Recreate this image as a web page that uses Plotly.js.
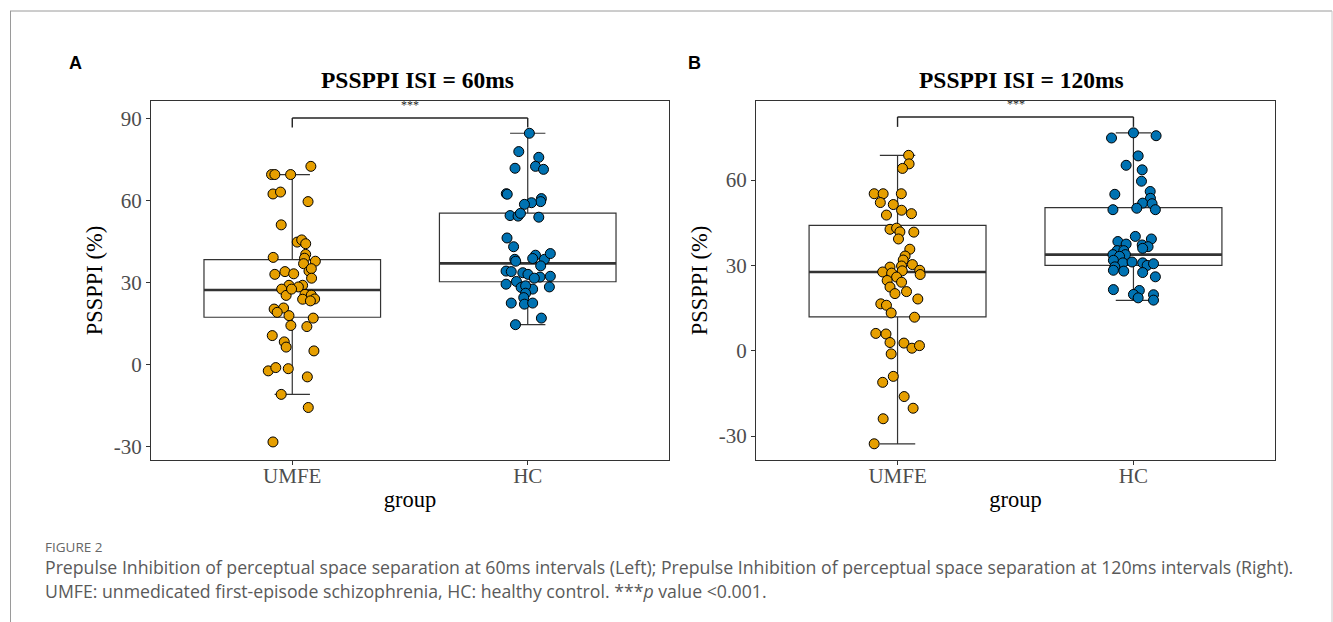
<!DOCTYPE html>
<html>
<head>
<meta charset="utf-8">
<script src="https://cdn.plot.ly/plotly-3.0.1.min.js"></script>
<style>
  html, body { margin: 0; padding: 0; background: #fff; }
  #chart { width: 1333px; height: 622px; }
</style>
</head>
<body>
<div id="chart"></div>
<script>
// ---------------- data ----------------
const categories = ["UMFE", "HC"];

// Panel A: PSSPPI ISI = 60ms
const a_UMFE = [72.5, 69.5, 69.5, 69.5, 62.4, 63.1, 59.6, 51.1, 44.8, 45.6, 44.2, 39.2, 40.3, 38.9, 37.8, 36.9,
  33.0, 34.0, 33.2, 34.2, 35.1, 31.6, 29.0, 27.6, 29.0, 28.4, 25.3, 25.7, 23.9, 25.4, 24.0, 23.3, 27.6,
  20.3, 20.7, 19.1, 17.9, 17.0, 14.3, 13.9, 10.6, 8.3, 6.4, 5.0, -2.3, -1.1, -1.5, -4.5, -10.9, -15.7, -28.3];
const a_UMFE_jitter = [0.079, -0.088, -0.074, -0.007, -0.082, -0.050, 0.067, -0.047, 0.021, 0.040, 0.057, -0.081,
  0.057, 0.052, 0.098, 0.048, -0.074, -0.031, 0.006, 0.071, 0.081, 0.082, -0.014, -0.045, 0.044, 0.026, -0.026,
  0.054, 0.044, 0.081, 0.095, 0.077, -0.003, -0.077, -0.037, -0.064, -0.014, 0.089, -0.006, 0.062, -0.085,
  -0.034, -0.026, 0.092, -0.102, -0.070, -0.017, 0.064, -0.047, 0.068, -0.082];
const a_HC = [84.6, 77.9, 75.8, 72.5, 71.4, 71.8, 62.5, 62.3, 60.7, 59.6, 59.2, 58.6, 54.5, 54.3, 55.3, 53.9,
  46.3, 43.1, 40.0, 38.8, 38.5, 40.6, 38.5, 37.8, 36.1, 34.2, 34.0, 33.6, 33.0, 32.0, 32.3, 31.6, 30.4,
  29.4, 28.2, 27.6, 28.4, 28.8, 26.1, 24.5, 22.5, 22.1, 22.5, 17.0, 14.6];
const a_HC_jitter = [0.007, -0.038, 0.047, 0.033, 0.067, -0.054, -0.091, -0.087, 0.058, 0.055, 0.016, -0.014,
  -0.075, -0.041, -0.031, 0.047, -0.088, -0.060, 0.033, 0.021, 0.071, 0.096, -0.055, -0.051, 0.055, -0.092,
  -0.070, -0.021, 0.001, 0.052, 0.096, 0.028, -0.048, -0.092, -0.028, 0.021, 0.092, -0.009, -0.009, -0.017,
  -0.070, -0.014, 0.021, 0.058, -0.052];
// box statistics: [UMFE, HC]
const a_q1 = [17.3, 30.3];
const a_median = [27.3, 37.0];
const a_q3 = [38.4, 55.4];
const a_lower = [-10.9, 14.6];
const a_upper = [69.5, 84.6];

// Panel B: PSSPPI ISI = 120ms
const b_UMFE = [68.7, 65.7, 64.1, 55.2, 55.2, 55.2, 52.1, 51.4, 49.4, 48.2, 47.7, 42.7, 43.1, 41.8, 41.7, 39.3,
  35.7, 33.3, 31.9, 30.3, 29.8, 29.4, 28.1, 27.7, 27.3, 28.3, 26.8, 25.9, 24.7, 24.1, 22.4, 20.1, 20.8, 18.2,
  16.5, 16.0, 13.3, 11.8, 6.1, 5.9, 2.9, 2.7, 0.9, 1.8, -1.1, -9.0, -11.1, -16.1, -20.2, -23.9, -32.7];
const b_UMFE_jitter = [0.047, 0.049, 0.021, -0.099, -0.061, 0.016, -0.073, -0.018, 0.017, 0.059, -0.047, -0.032,
  -0.004, 0.010, 0.069, 0.004, 0.052, 0.032, 0.024, 0.063, 0.017, -0.032, 0.020, -0.063, -0.025, 0.094, 0.096,
  -0.004, -0.044, 0.017, -0.032, -0.011, 0.038, 0.086, -0.071, -0.047, -0.027, 0.072, -0.092, -0.049, -0.032,
  0.027, 0.061, 0.093, -0.027, -0.018, -0.063, 0.028, 0.066, -0.061, -0.099];
const b_HC = [76.6, 74.8, 75.6, 68.5, 65.2, 63.6, 59.6, 55.0, 56.0, 53.6, 51.9, 51.7, 50.1, 49.6, 49.6, 40.2,
  39.3, 38.4, 37.5, 37.2, 36.6, 35.2, 35.2, 36.0, 33.8, 33.8, 33.2, 31.8, 30.9, 31.2, 30.9, 30.0, 30.6, 29.5,
  28.0, 27.5, 28.3, 26.0, 21.5, 21.2, 19.8, 18.6, 19.7, 17.8];
const b_HC_jitter = [0, -0.093, 0.096, 0.020, -0.031, 0.037, 0.034, -0.079, 0.071, 0.072, 0.039, 0.079, 0.014,
  -0.087, 0.093, 0.008, 0.076, -0.066, -0.031, 0.037, 0.062, -0.069, -0.041, 0.039, -0.087, -0.034, -0.059,
  -0.085, -0.045, -0.006, 0.039, 0.058, 0.085, -0.079, -0.041, 0.039, -0.085, 0.093, -0.085, 0.025, 0, 0.020,
  0.085, 0.085];
const b_q1 = [11.9, 30.0];
const b_median = [27.7, 33.8];
const b_q3 = [44.1, 50.3];
const b_lower = [-32.7, 17.7];
const b_upper = [68.7, 76.6];

const yTicksA = [90, 60, 30, 0, -30];
const yTicksB = [60, 30, 0, -30];
const sigLabel = "***";
const sigA = 90.2, sigB = 82.2; // bracket heights (data units)

// ---------------- styling ----------------
const W = 1333, H = 622;
const colors = ["#E69F00", "#0072B2"];
const serif = "Liberation Serif, Times New Roman, serif";
const boxWidth = 0.75;

function px(x) { return x / W; }
function py(y) { return 1 - y / H; }

function panelTraces(xa, ya, groups, jitters, q1, med, q3, lo, hi) {
  const traces = [];
  traces.push({
    type: "box", xaxis: xa, yaxis: ya,
    x: [0, 1], q1: q1, median: med, q3: q3, lowerfence: lo, upperfence: hi,
    width: boxWidth, boxpoints: false, whiskerwidth: 0.2,
    fillcolor: "rgba(255,255,255,1)",
    line: { color: "#333333", width: 1.2 },
    hoverinfo: "skip", showlegend: false
  });
  // thicker median line
  const mx = [], my = [];
  med.forEach((m, i) => { mx.push(i - boxWidth / 2, i + boxWidth / 2, null); my.push(m, m, null); });
  traces.push({
    type: "scatter", mode: "lines", xaxis: xa, yaxis: ya, x: mx, y: my,
    line: { color: "#333333", width: 2.6 }, hoverinfo: "skip", showlegend: false
  });
  groups.forEach((vals, gi) => {
    traces.push({
      type: "scatter", mode: "markers", xaxis: xa, yaxis: ya,
      x: vals.map((v, i) => gi + jitters[gi][i]), y: vals,
      marker: { color: colors[gi], size: 10, line: { color: "#000", width: 1 } },
      hoverinfo: "skip", showlegend: false
    });
  });
  return traces;
}

const data = [].concat(
  panelTraces("x", "y", [a_UMFE, a_HC], [a_UMFE_jitter, a_HC_jitter], a_q1, a_median, a_q3, a_lower, a_upper),
  panelTraces("x2", "y2", [b_UMFE, b_HC], [b_UMFE_jitter, b_HC_jitter], b_q1, b_median, b_q3, b_lower, b_upper)
);

function xAxis(domain, anchor) {
  return {
    domain: domain, anchor: anchor, range: [-0.6, 1.6],
    tickvals: [0, 1], ticktext: categories,
    showline: true, mirror: true, linecolor: "#333", linewidth: 1,
    ticks: "outside", ticklen: 4, tickcolor: "#333", tickwidth: 1,
    ticklabelstandoff: -7,
    showgrid: false, zeroline: false,
    tickfont: { family: serif, size: 21, color: "#4d4d4d" },
    title: { text: "group", font: { family: serif, size: 22.5, color: "#000" }, standoff: 4 },
    fixedrange: true
  };
}
function yAxis(domain, anchor, range, ticks) {
  return {
    domain: domain, anchor: anchor, range: range,
    tickvals: ticks, ticktext: ticks.map(t => String(t)),
    showline: true, mirror: true, linecolor: "#333", linewidth: 1,
    ticks: "outside", ticklen: 4, tickcolor: "#333", tickwidth: 1,
    showgrid: false, zeroline: false,
    tickfont: { family: serif, size: 21, color: "#4d4d4d" },
    title: { text: "PSSPPI (%)", font: { family: serif, size: 22.5, color: "#000" }, standoff: 4 },
    fixedrange: true
  };
}

const yDom = [py(460), py(101)];

function bracket(xr, yr, yv, tip) {
  const s = { type: "line", xref: xr, yref: yr, line: { color: "#222", width: 1.4 } };
  return [
    Object.assign({}, s, { x0: 0, x1: 0, y0: yv - tip, y1: yv }),
    Object.assign({}, s, { x0: 0, x1: 1, y0: yv, y1: yv }),
    Object.assign({}, s, { x0: 1, x1: 1, y0: yv, y1: yv - tip })
  ];
}

const borderLine = { color: "#9a9a9a", width: 1 };
const shapes = [].concat(
  bracket("x", "y", sigA, 3.5),
  bracket("x2", "y2", sigB, 3.5),
  [
    { type: "line", xref: "paper", yref: "paper", x0: px(10), x1: px(1332), y0: py(11), y1: py(11), line: borderLine },
    { type: "line", xref: "paper", yref: "paper", x0: px(10.5), x1: px(10.5), y0: py(11), y1: 0, line: borderLine },
    { type: "line", xref: "paper", yref: "paper", x0: px(1332), x1: px(1332), y0: py(11), y1: 0, line: { color: "#c8c8c8", width: 1 } }
  ]
);

function note(text, x, y, font, extra) {
  return Object.assign({ text: text, xref: "paper", yref: "paper", x: px(x), y: py(y),
    xanchor: "center", yanchor: "middle", showarrow: false, font: font }, extra || {});
}
const capFont = { family: "Open Sans, sans-serif", size: 17.7, color: "#5a5a5a" };

const annotations = [
  note("<b>A</b>", 75, 62.5, { family: "Liberation Sans, Arial, sans-serif", size: 18, color: "#000" }),
  note("<b>B</b>", 695, 62.5, { family: "Liberation Sans, Arial, sans-serif", size: 18, color: "#000" }),
  note("<b>PSSPPI ISI = 60ms</b>", 417, 80, { family: serif, size: 23.5, color: "#000" }),
  note("<b>PSSPPI ISI = 120ms</b>", 1021, 80, { family: serif, size: 23.5, color: "#000" }),
  { text: sigLabel, xref: "x", yref: "y", x: 0.5, y: sigA, yanchor: "bottom", yshift: 4, showarrow: false,
    font: { family: serif, size: 12, color: "#222" } },
  { text: sigLabel, xref: "x2", yref: "y2", x: 0.5, y: sigB, yanchor: "bottom", yshift: 4, showarrow: false,
    font: { family: serif, size: 12, color: "#222" } },
  note("FIGURE 2", 43, 547, { family: "Open Sans, sans-serif", size: 13.5, color: "#666" }, { xanchor: "left" }),
  note("Prepulse Inhibition of perceptual space separation at 60ms intervals (Left); Prepulse Inhibition of perceptual space separation at 120ms intervals (Right).",
    43, 567, capFont, { xanchor: "left" }),
  note("UMFE: unmedicated first-episode schizophrenia, HC: healthy control. ***<i>p</i> value &lt;0.001.",
    43, 591, capFont, { xanchor: "left" })
];

const layout = {
  width: W, height: H,
  margin: { l: 0, r: 0, t: 0, b: 0 },
  paper_bgcolor: "#fff", plot_bgcolor: "#fff",
  showlegend: false,
  xaxis: xAxis([px(151), px(669)], "y"),
  yaxis: yAxis(yDom, "x", [-34.9, 96.4], yTicksA),
  xaxis2: xAxis([px(756), px(1275)], "y2"),
  yaxis2: yAxis(yDom, "x2", [-38.4, 87.8], yTicksB),
  shapes: shapes,
  annotations: annotations
};

Plotly.newPlot("chart", data, layout, { staticPlot: true, displayModeBar: false });
</script>
</body>
</html>
